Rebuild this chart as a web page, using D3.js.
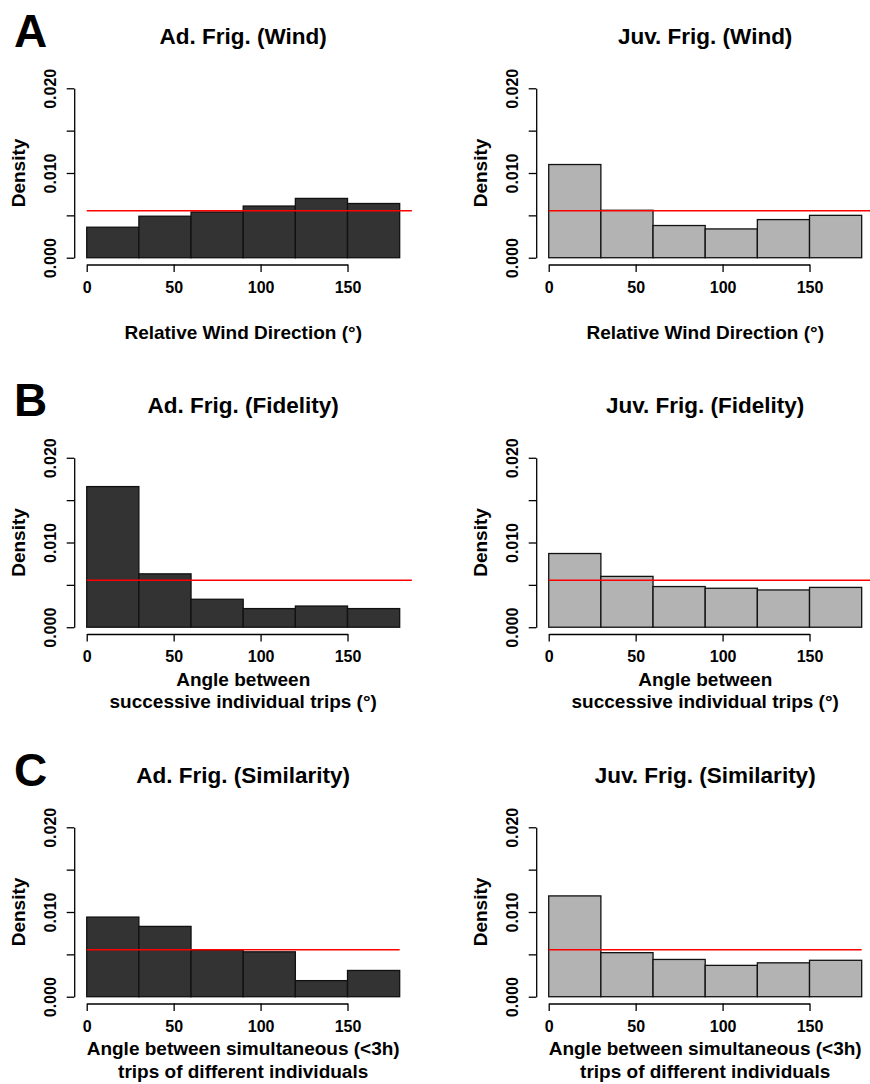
<!DOCTYPE html>
<html><head><meta charset="utf-8">
<script src="https://cdn.jsdelivr.net/npm/d3@7"></script>
<style>
body{margin:0;background:#fff}
text{font-family:"Liberation Sans",Arial,sans-serif;font-weight:bold;fill:#000}
</style>
</head><body>
<svg id="c" width="870" height="1084"></svg>
<script>
// ---- data ----
const breaks = [0, 30, 60, 90, 120, 150, 180];
const adultWind       = [0.0036, 0.0049, 0.0054, 0.0061, 0.0070, 0.0064];
const juvWind         = [0.0110, 0.0056, 0.0038, 0.0034, 0.0045, 0.0050];
const adultFidelity   = [0.0166, 0.0063, 0.0033, 0.0022, 0.0025, 0.0022];
const juvFidelity     = [0.0087, 0.0060, 0.0048, 0.0046, 0.0044, 0.0047];
const adultSimilarity = [0.0094, 0.0083, 0.0055, 0.0053, 0.0019, 0.0031];
const juvSimilarity   = [0.0119, 0.0052, 0.0044, 0.0037, 0.0040, 0.0043];
const panelLetters = ["A", "B", "C"];
const titles = [
  ["Ad. Frig. (Wind)", "Juv. Frig. (Wind)"],
  ["Ad. Frig. (Fidelity)", "Juv. Frig. (Fidelity)"],
  ["Ad. Frig. (Similarity)", "Juv. Frig. (Similarity)"]
];
const xLabels = [
  ["Relative Wind Direction (°)"],
  ["Angle between", "successive individual trips (°)"],
  ["Angle between simultaneous (<3h)", "trips of different individuals"]
];
const yLabel = "Density";
const xTicks = [0, 50, 100, 150];
const yTicks = [0, 0.005, 0.010, 0.015, 0.020];
const yTickLabels = ["0.000", "", "0.010", "", "0.020"];
const uniformDensity = 1 / 180;
const refLineEnd = [[187, 187], [187, 187], [180, 180]];
const series = [[adultWind, juvWind], [adultFidelity, juvFidelity], [adultSimilarity, juvSimilarity]];

// ---- layout ----
const colLeft = [74.2, 536.2];
const rowTop = [81.5, 451, 820.5];
const W = 338, H = 183;
const fills = ["#333333", "#b3b3b3"];

const svg = d3.select("#c");

series.forEach((row, r) => {
  row.forEach((vals, c) => {
    const x = d3.scaleLinear().domain([-7.2, 187.2]).range([colLeft[c], colLeft[c] + W]);
    const y = d3.scaleLinear().domain([-0.0008, 0.0208]).range([rowTop[r] + H, rowTop[r]]);
    const g = svg.append("g");

    // bars
    g.selectAll("rect.bar").data(vals).enter().append("rect")
      .attr("x", (d, i) => x(breaks[i]))
      .attr("width", (d, i) => x(breaks[i + 1]) - x(breaks[i]))
      .attr("y", d => y(d))
      .attr("height", d => y(0) - y(d))
      .attr("fill", fills[c])
      .attr("stroke", "#111")
      .attr("stroke-width", 1.3);

    // uniform reference line
    g.append("line")
      .attr("x1", x(0)).attr("x2", x(refLineEnd[r][c]))
      .attr("y1", y(uniformDensity)).attr("y2", y(uniformDensity))
      .attr("stroke", "#ff0000").attr("stroke-width", 1.5);

    // x axis
    const xa = d3.scaleLinear().domain([0, 150]).range([x(0), x(150)]);
    const gx = g.append("g").attr("transform", `translate(0,${y(-0.0008)})`)
      .call(d3.axisBottom(xa).tickValues(xTicks).tickSize(7.5).tickSizeOuter(0).tickFormat(d3.format("d")));
    gx.selectAll("text").attr("y", 28).attr("dy", 0).style("font-size", "16px");

    // y axis
    const ya = d3.scaleLinear().domain([0, 0.02]).range([y(0), y(0.02)]);
    const gy = g.append("g").attr("transform", `translate(${x(-7.2)},0)`)
      .call(d3.axisLeft(ya).tickValues(yTicks).tickSize(7.5).tickSizeOuter(0)
        .tickFormat((d, i) => yTickLabels[i]));
    gy.selectAll("text")
      .attr("transform", "rotate(-90)")
      .attr("x", 0).attr("y", -18).attr("dy", 0)
      .attr("text-anchor", "middle")
      .style("font-size", "16px");
    g.selectAll(".domain, .tick line").attr("stroke", "#000").attr("stroke-width", 1.3);

    // titles and labels
    const cx = colLeft[c] + W / 2;
    const y02 = y(0.02);
    g.append("text").attr("x", cx).attr("y", y02 - 44.3)
      .attr("text-anchor", "middle").style("font-size", "22.5px").text(titles[r][c]);

    const lines = xLabels[r];
    lines.forEach((t, k) => {
      g.append("text").attr("x", cx)
        .attr("y", y02 + 250.3 - (lines.length - 1 - k) * 22.3)
        .attr("text-anchor", "middle").style("font-size", "19px").text(t);
    });

    g.append("text")
      .attr("transform", `translate(${x(-7.2) - 49},${(y(0) + y(0.02)) / 2}) rotate(-90)`)
      .attr("text-anchor", "middle").style("font-size", "19px").text(yLabel);

    if (c === 0) {
      g.append("text").attr("x", 14).attr("y", y02 - 41.3)
        .style("font-size", "46px").text(panelLetters[r]);
    }
  });
});
</script>
</body></html>
